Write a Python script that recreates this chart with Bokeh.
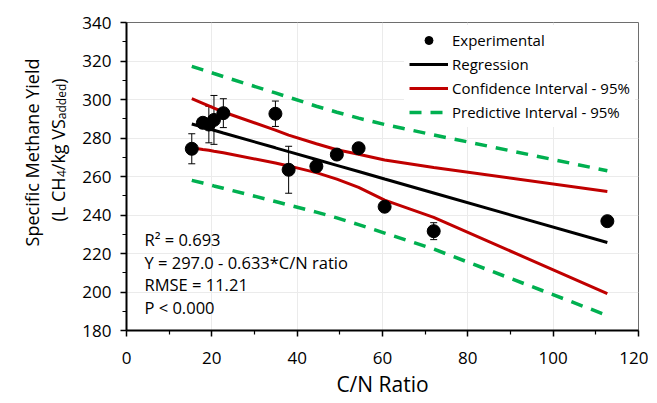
import math
from bokeh.plotting import figure
from bokeh.layouts import row
from bokeh.models import (Range1d, FixedTicker, Label, Legend, LegendItem,
                          Whisker, TeeHead, ColumnDataSource)
from bokeh.embed import file_html
from bokeh.resources import INLINE

# ---------------- data ----------------
cn_ratio = [15.3, 17.9, 19.3, 20.5, 22.7, 34.9, 38.0, 44.5, 49.3, 54.4, 60.5, 72.0, 112.7]
methane_yield = [274.4, 287.9, 287.0, 289.4, 292.9, 292.6, 263.5, 265.3, 271.4, 274.7, 244.3, 231.6, 236.8]
yield_err = [7.8, 2.5, 9.5, 12.7, 7.5, 6.6, 12.2, 2.5, 2.5, 2.5, 2.5, 4.4, 2.5]

regression = [287.3, 285.7, 284.8, 284.0, 282.6, 274.9, 272.9, 268.8, 265.8, 262.6, 258.7, 251.4, 225.7]
ci_upper = [300.4, 298.0, 296.7, 295.5, 293.5, 284.1, 281.5, 277.0, 273.9, 271.6, 268.6, 264.7, 252.2]
ci_lower = [274.9, 274.0, 273.6, 273.1, 272.3, 267.0, 265.5, 262.0, 258.6, 254.3, 247.7, 238.8, 199.1]
pi_upper = [317.2, 315.4, 314.4, 313.5, 311.9, 303.4, 301.2, 296.5, 293.4, 290.3, 287.0, 281.6, 263.0]
pi_lower = [258.0, 256.6, 255.8, 255.1, 253.9, 247.0, 245.2, 241.5, 238.5, 235.0, 230.6, 222.3, 187.8]

x_ticks = [0, 20, 40, 60, 80, 100, 120]
x_minor = [10, 30, 50, 70, 90, 110]
y_ticks = [180, 200, 220, 240, 260, 280, 300, 320, 340]
y_minor = [190, 210, 230, 250, 270, 290, 310, 330]

stats_lines = ["R\u00b2 = 0.693", "Y = 297.0 - 0.633*C/N ratio", "RMSE = 11.21", "P < 0.000"]
legend_labels = ["Experimental", "Regression", "Confidence Interval - 95%", "Predictive Interval - 95%"]
x_title = "C/N Ratio"
y_title_1 = "Specific Methane Yield"
y_title_2 = [("(L CH", False), ("4", True), ("/kg VS", False), ("added", True), (")", False)]

FONT = "Open Sans"
RED = "#c00000"
GREEN = "#00b050"
H = 400
TW = 78  # width of the y-title panel

# ---------------- main figure ----------------
p = figure(width=648 - TW, height=H, x_range=Range1d(0, 120), y_range=Range1d(180, 340),
           output_backend="svg", toolbar_location=None,
           min_border_left=126 - TW, min_border_right=10, min_border_top=22, min_border_bottom=70)
p.background_fill_color = "white"
p.border_fill_color = "white"
p.outline_line_color = "#6e6e6e"
p.outline_line_width = 1

for ax, ticks, minor in ((p.xaxis, x_ticks, x_minor), (p.yaxis, y_ticks, y_minor)):
    ax.ticker = FixedTicker(ticks=ticks, minor_ticks=minor)
    ax.axis_line_color = "black"
    ax.axis_line_width = 2
    ax.major_tick_line_color = "black"
    ax.major_tick_line_width = 1.5
    ax.major_tick_in = 0
    ax.major_tick_out = 6
    ax.minor_tick_line_color = "black"
    ax.minor_tick_line_width = 1.2
    ax.minor_tick_in = 0
    ax.minor_tick_out = 4
    ax.major_label_text_font = FONT
    ax.major_label_text_font_size = "17px"
    ax.major_label_text_color = "black"
p.xaxis.major_label_standoff = 15
p.yaxis.major_label_standoff = 9
p.xaxis.axis_label = x_title
p.xaxis.axis_label_text_font = FONT
p.xaxis.axis_label_text_font_size = "21px"
p.xaxis.axis_label_text_font_style = "normal"
p.xaxis.axis_label_text_color = "black"
p.xaxis.axis_label_standoff = 3

p.xgrid.ticker = FixedTicker(ticks=x_ticks)
p.ygrid.ticker = FixedTicker(ticks=y_ticks)
p.grid.grid_line_color = "#ebebeb"
p.grid.grid_line_width = 1

# ---------------- glyphs ----------------
pi_up_r = p.line(cn_ratio, pi_upper, line_color=GREEN, line_width=3.5, line_dash="12 9")
p.line(cn_ratio, pi_lower, line_color=GREEN, line_width=3.5, line_dash="12 9")
ci_up_r = p.line(cn_ratio, ci_upper, line_color=RED, line_width=3)
p.line(cn_ratio, ci_lower, line_color=RED, line_width=3)
reg_r = p.line(cn_ratio, regression, line_color="black", line_width=3)

err_src = ColumnDataSource(dict(
    x=cn_ratio,
    upper=[v + e for v, e in zip(methane_yield, yield_err)],
    lower=[v - e for v, e in zip(methane_yield, yield_err)],
))
whisk = Whisker(source=err_src, base="x", upper="upper", lower="lower",
                line_color="black", line_width=1,
                upper_head=TeeHead(size=7, line_color="black", line_width=1),
                lower_head=TeeHead(size=7, line_color="black", line_width=1))
p.add_layout(whisk)

pts_r = p.scatter(cn_ratio, methane_yield, size=13, marker="circle",
                  fill_color="black", line_color="black")

# ---------------- legend ----------------
legend = Legend(items=[LegendItem(label=legend_labels[0], renderers=[pts_r]),
                       LegendItem(label=legend_labels[1], renderers=[reg_r]),
                       LegendItem(label=legend_labels[2], renderers=[ci_up_r]),
                       LegendItem(label=legend_labels[3], renderers=[pi_up_r])],
                location=(278, 203))
legend.label_text_font = FONT
legend.label_text_font_size = "15px"
legend.label_text_color = "black"
legend.glyph_width = 39
legend.glyph_height = 20
legend.label_height = 20
legend.spacing = 4
legend.padding = 5
legend.margin = 0
legend.label_standoff = 4
legend.border_line_alpha = 0
legend.background_fill_color = "white"
legend.background_fill_alpha = 1
p.add_layout(legend)

# ---------------- statistics text ----------------
stat_y = [91, 68, 46, 23]
for txt, yy in zip(stats_lines, stat_y):
    p.add_layout(Label(x=18, y=yy, x_units="screen", y_units="screen", text=txt,
                       text_font=FONT, text_font_size="16.5px", text_color="black",
                       text_baseline="middle", text_align="left"))

# ---------------- y-axis title panel (frame aligned with main plot) ----------------
t = figure(width=TW, height=H, x_range=Range1d(0, TW), y_range=Range1d(0, H),
           output_backend="svg", toolbar_location=None,
           x_axis_location=None, y_axis_location=None, min_border=0)
t.outline_line_color = None
t.grid.visible = False
t.background_fill_color = "white"
t.border_fill_color = "white"

t.add_layout(Label(x=31, y=178, x_units="screen", y_units="screen", text=y_title_1,
                   angle=math.pi / 2, text_font=FONT, text_font_size="18px",
                   text_color="black", text_align="center", text_baseline="alphabetic"))

piece_width = {"(L CH": 44.4, "4": 6.9, "/kg VS": 51.0, "added": 35.5, ")": 5.3}
ypos = 109.0
for txt, sub in y_title_2:
    t.add_layout(Label(x=61 if sub else 57, y=ypos, x_units="screen", y_units="screen",
                       text=txt, angle=math.pi / 2, text_font=FONT,
                       text_font_size="12px" if sub else "18px", text_color="black",
                       text_align="left", text_baseline="alphabetic"))
    ypos += piece_width[txt]

layout = row(t, p)
open("out.html", "w").write(file_html(layout, INLINE))
